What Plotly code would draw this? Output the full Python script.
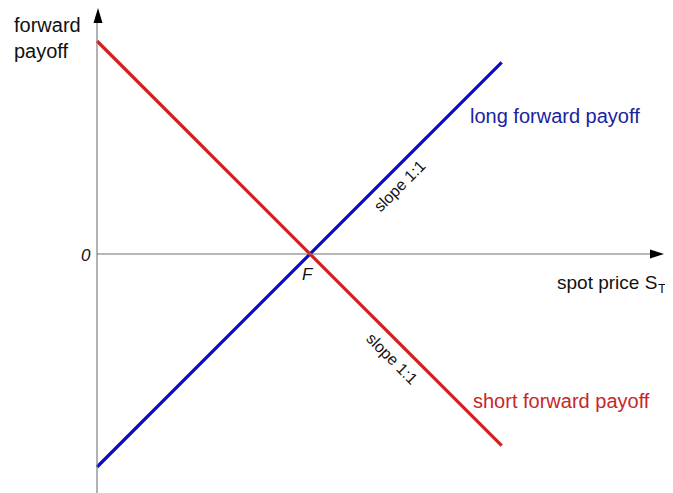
import plotly.graph_objects as go

# ---- data ----
F = 100
spot_price = [0, 190]
long_payoff = [-100, 90]
short_payoff = [100, -90]

# ---- pixel <-> data helpers (layout only) ----
PAGE_W, PAGE_H = 673, 493
OFF = 8                       # default page body margin
W, H = PAGE_W - OFF, PAGE_H - OFF
X0_PX, Y0_PX = 97, 254        # origin in page pixels
K = 2.13                      # pixels per data unit

def dx(px):
    return (px - X0_PX) / K

def dy(py):
    return (Y0_PX - py) / K

FONT = "Liberation Sans, Arial, sans-serif"
BLUE = "#0b0bbf"
RED = "#d41f1f"
BLUE_TXT = "#1c239e"
RED_TXT = "#c8262b"

fig = go.Figure()
fig.add_trace(go.Scatter(x=spot_price, y=long_payoff, mode="lines",
                         line=dict(color=BLUE, width=3.2), hoverinfo="skip"))
fig.add_trace(go.Scatter(x=spot_price, y=short_payoff, mode="lines",
                         line=dict(color=RED, width=3.2), hoverinfo="skip"))

shapes = [
    # y axis
    dict(type="line", x0=0, x1=0, y0=dy(PAGE_H + 5), y1=dy(20), line=dict(color="#808080", width=1.2)),
    # x axis
    dict(type="line", x0=0, x1=dx(652), y0=0, y1=0, line=dict(color="#707070", width=1.2)),
    # y arrow head
    dict(type="path",
         path=f"M {dx(98)} {dy(8)} L {dx(93.5)} {dy(23)} L {dx(102.5)} {dy(23)} Z",
         fillcolor="black", line=dict(color="black", width=0)),
    # x arrow head
    dict(type="path",
         path=f"M {dx(664)} {dy(254)} L {dx(650)} {dy(249.5)} L {dx(650)} {dy(258.5)} Z",
         fillcolor="black", line=dict(color="black", width=0)),
]

ann = [
    dict(x=dx(12), y=dy(38), text="forward<br>payoff", xanchor="left", yanchor="middle",
         align="left", font=dict(size=20, color="#111111", family=FONT)),
    dict(x=dx(93), y=dy(255), text="<i>0</i>", xanchor="right", yanchor="middle",
         font=dict(size=17, color="#111111", family=FONT)),
    dict(x=dx(308), y=dy(274), text="<i>F</i>", xanchor="center", yanchor="middle",
         font=dict(size=17, color="#111111", family=FONT)),
    dict(x=dx(555), y=dy(282), text="spot price S", xanchor="left", yanchor="middle",
         font=dict(size=19, color="#111111", family=FONT)),
    dict(x=dx(656), y=dy(288), text="T", xanchor="left", yanchor="middle",
         font=dict(size=13, color="#111111", family=FONT)),
    dict(x=dx(468), y=dy(116), text="long forward payoff", xanchor="left", yanchor="middle",
         font=dict(size=20, color=BLUE_TXT, family=FONT)),
    dict(x=dx(471), y=dy(401), text="short forward payoff", xanchor="left", yanchor="middle",
         font=dict(size=20, color=RED_TXT, family=FONT)),
    dict(x=dx(399), y=dy(186), text="slope 1:1", textangle=-45, xanchor="center", yanchor="middle",
         font=dict(size=16, color="#111111", family=FONT)),
    dict(x=dx(392), y=dy(358), text="slope 1:1", textangle=45, xanchor="center", yanchor="middle",
         font=dict(size=16, color="#111111", family=FONT)),
]
for a in ann:
    a.update(xref="x", yref="y", showarrow=False)

fig.update_layout(
    width=W, height=H,
    margin=dict(l=0, r=0, t=0, b=0),
    paper_bgcolor="white", plot_bgcolor="white",
    showlegend=False,
    xaxis=dict(range=[dx(OFF), dx(PAGE_W)], visible=False, fixedrange=True),
    yaxis=dict(range=[dy(PAGE_H), dy(OFF)], visible=False, fixedrange=True),
    shapes=shapes,
    annotations=ann,
)

fig.write_html("out.html", config={"displayModeBar": False})
